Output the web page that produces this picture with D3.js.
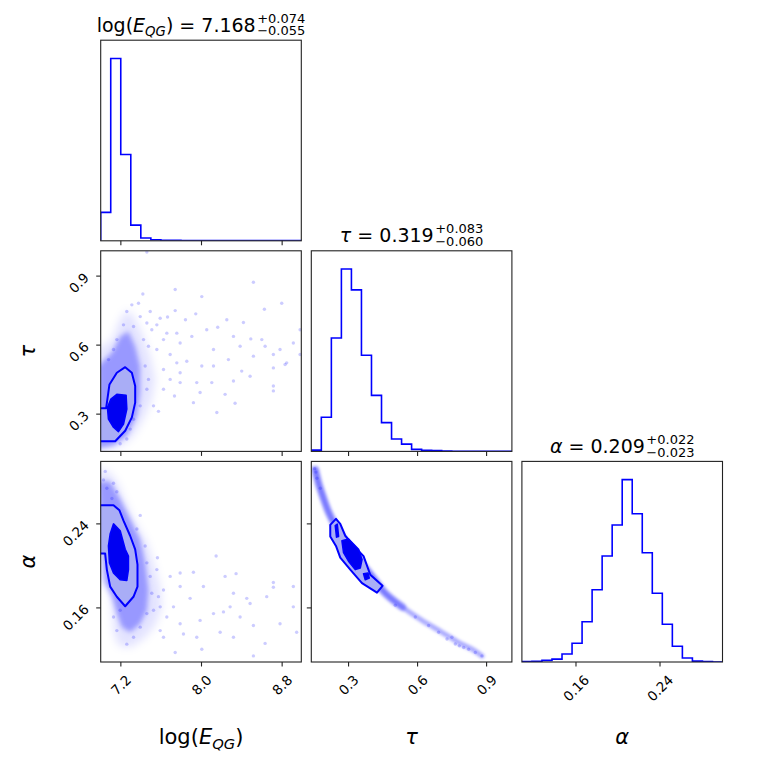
<!DOCTYPE html>
<html>
<head>
<meta charset="utf-8">
<script src="https://cdn.jsdelivr.net/npm/d3@7"></script>
<style>
  body { margin: 0; background: #fff; }
  text { font-family: "DejaVu Sans", sans-serif; fill: #000; }
</style>
</head>
<body>
<script>
// axis ranges, ticks
const logERange = [7.0, 8.99];
const tauRange = [0.138, 1.01];
const alphaRange = [0.1085, 0.2995];
const logETicks = [7.2, 8.0, 8.8];
const tauTicks = [0.3, 0.6, 0.9];
const alphaTicks = [0.16, 0.24];
const tickFormats = ['.1f', '.1f', '.2f'];

// 1d histograms, 20 bins over each range (relative counts)
const logEHist = [156, 1000, 473, 86, 15, 6, 3, 3, 2, 2, 2, 2, 2, 2, 2, 2, 1, 1, 1, 1];
const tauHist = [7, 187, 622, 1000, 886, 527, 307, 158, 68, 40, 11, 6, 4, 2, 1, 1, 0, 0, 0, 0];
const alphaHist = [2, 4, 9, 16, 44, 103, 221, 396, 581, 751, 1000, 813, 599, 377, 207, 86, 22, 5, 2, 0];

// titles
const medians = ['7.168', '0.319', '0.209'];
const errPlus = ['0.074', '0.083', '0.022'];
const errMinus = ['0.055', '0.060', '0.023'];

// log(E) vs tau
const logETauOuter = [[6.97, 0.326], [7.054, 0.326], [7.087, 0.429], [7.160, 0.480], [7.243, 0.504], [7.309, 0.480],
  [7.342, 0.422], [7.342, 0.350], [7.309, 0.286], [7.243, 0.228], [7.144, 0.182], [6.97, 0.182]];
const logETauInner = [[7.160, 0.386], [7.252, 0.382], [7.259, 0.322], [7.226, 0.257], [7.176, 0.224], [7.127, 0.243],
  [7.077, 0.278], [7.067, 0.329], [7.101, 0.365]];
const logETauHalo = [[6.97, 0.5805], [7.111, 0.6237], [7.193, 0.710], [7.259, 0.7532], [7.325, 0.7243], [7.408, 0.6526],
  [7.490, 0.5516], [7.540, 0.4511], [7.507, 0.3647], [7.424, 0.2784], [7.325, 0.2063], [7.193, 0.1563], [6.97, 0.145]];
const logETauCore = [[6.97, 0.5085], [7.111, 0.5663], [7.193, 0.6379], [7.275, 0.6595], [7.342, 0.5948], [7.391, 0.5085],
  [7.391, 0.3937], [7.358, 0.2927], [7.259, 0.2063], [7.127, 0.1632], [6.97, 0.149]];
const logETauPoints = [[7.458, 1.005], [7.739, 0.842], [7.418, 0.822], [8.003, 0.811], [8.515, 0.873], [8.796, 0.782],
  [8.624, 0.756], [8.251, 0.710], [8.416, 0.698], [7.739, 0.750], [7.663, 0.722], [7.841, 0.710], [7.943, 0.736],
  [8.052, 0.667], [8.161, 0.678], [8.317, 0.638], [8.489, 0.627], [8.631, 0.595], [8.978, 0.667], [7.904, 0.638],
  [7.788, 0.609], [8.119, 0.581], [8.383, 0.595], [8.713, 0.559], [8.845, 0.523], [8.978, 0.559], [7.854, 0.530],
  [8.003, 0.509], [8.119, 0.509], [8.267, 0.537], [8.399, 0.487], [8.482, 0.465], [8.713, 0.501], [8.829, 0.516],
  [8.317, 0.444], [8.713, 0.422], [8.713, 0.401], [8.234, 0.386], [8.333, 0.347], [8.152, 0.307], [7.920, 0.350],
  [7.732, 0.379], [7.573, 0.312], [7.788, 0.437], [7.689, 0.451], [7.623, 0.494], [7.689, 0.559], [7.557, 0.581],
  [7.623, 0.624], [7.507, 0.667], [7.557, 0.688], [7.656, 0.652], [7.755, 0.652], [7.590, 0.717], [7.491, 0.746],
  [7.375, 0.782], [7.309, 0.775], [7.259, 0.746], [7.226, 0.688], [7.755, 0.523], [7.788, 0.480], [7.953, 0.437],
  [8.102, 0.437], [7.623, 0.408], [7.524, 0.336], [7.986, 0.394], [8.515, 0.552], [8.598, 0.624], [8.779, 0.581],
  [8.911, 0.609], [7.458, 0.696], [7.425, 0.624], [7.474, 0.595], [7.392, 0.724], [7.326, 0.681], [7.441, 0.509],
  [7.474, 0.451], [7.458, 0.408], [7.392, 0.336], [7.326, 0.278], [7.293, 0.235], [7.259, 0.192], [7.193, 0.171],
  [7.127, 0.581], [7.078, 0.537], [7.160, 0.624]];

// log(E) vs alpha
const logEAlphaOuter = [[6.97, 0.2577], [7.127, 0.2577], [7.186, 0.2529], [7.226, 0.2432], [7.292, 0.2287], [7.342, 0.2158],
  [7.365, 0.2013], [7.365, 0.1803], [7.325, 0.1706], [7.243, 0.1616], [7.160, 0.1706], [7.094, 0.1803], [7.061, 0.1965],
  [7.044, 0.2119], [6.97, 0.2119]];
const logEAlphaInner = [[7.127, 0.2400], [7.193, 0.2335], [7.243, 0.2158], [7.275, 0.2093], [7.275, 0.1965], [7.259, 0.1861],
  [7.193, 0.1868], [7.127, 0.1933], [7.087, 0.2029], [7.077, 0.2190], [7.094, 0.2303]];
const logEAlphaHalo = [[6.97, 0.2932], [7.078, 0.2900], [7.160, 0.2803], [7.243, 0.2610], [7.342, 0.2416], [7.458, 0.2223],
  [7.524, 0.2029], [7.590, 0.1804], [7.606, 0.1610], [7.540, 0.1433], [7.425, 0.1304], [7.293, 0.1223], [7.177, 0.1239],
  [7.127, 0.1368], [7.111, 0.1578], [7.094, 0.1739], [7.028, 0.1836], [6.97, 0.1868]];
const logEAlphaCore = [[6.97, 0.2803], [7.094, 0.2803], [7.193, 0.2642], [7.293, 0.2448], [7.392, 0.2255], [7.441, 0.2029],
  [7.474, 0.1771], [7.458, 0.1578], [7.392, 0.1449], [7.293, 0.1368], [7.210, 0.1417], [7.160, 0.1546], [7.111, 0.1707],
  [7.045, 0.1836]];
const logEAlphaPoints = [[7.045, 0.290], [7.563, 0.2078], [8.145, 0.2094], [7.788, 0.1932], [7.920, 0.1939], [8.234, 0.1900],
  [8.343, 0.1926], [8.713, 0.1842], [8.713, 0.1797], [8.911, 0.1804], [8.317, 0.1739], [8.449, 0.1691], [8.482, 0.1642],
  [8.647, 0.1707], [8.284, 0.1610], [8.019, 0.1804], [7.788, 0.1804], [7.887, 0.1691], [7.722, 0.1610], [7.656, 0.1513],
  [7.788, 0.1449], [7.986, 0.1481], [8.119, 0.1546], [8.218, 0.1562], [8.515, 0.1433], [8.779, 0.1449], [8.911, 0.1610],
  [8.944, 0.1368], [8.631, 0.1262], [8.515, 0.1143], [8.003, 0.1207], [7.739, 0.1175], [7.821, 0.1352], [7.953, 0.1320],
  [7.623, 0.1320], [7.590, 0.1384], [8.185, 0.1368], [8.317, 0.1320], [8.383, 0.1513], [7.689, 0.1900], [7.573, 0.1707],
  [7.524, 0.1578], [7.028, 0.2819], [7.061, 0.2739], [7.127, 0.2787], [7.160, 0.2706], [7.111, 0.2642], [7.392, 0.2481],
  [7.359, 0.2352], [7.441, 0.2190], [7.458, 0.2029], [7.491, 0.1900], [7.507, 0.1739], [7.458, 0.1546], [7.392, 0.1417],
  [7.326, 0.1320], [7.259, 0.1255], [7.160, 0.1384], [7.127, 0.1513], [7.193, 0.1578], [7.590, 0.1610], [7.623, 0.1771],
  [7.557, 0.1965]];

// tau vs alpha
const tauAlphaOuter = [[0.2204, 0.2390], [0.2452, 0.2448], [0.2639, 0.2400], [0.2857, 0.2287], [0.3291, 0.2175],
  [0.3652, 0.2093], [0.3943, 0.1916], [0.4478, 0.1810], [0.4235, 0.1745], [0.3583, 0.1836], [0.3074, 0.1965],
  [0.2639, 0.2078], [0.2452, 0.2190], [0.2204, 0.2281]];
const tauAlphaInner = [
  [[0.2422, 0.2384], [0.2509, 0.2397], [0.2565, 0.2281], [0.2478, 0.2274]],
  [[0.2713, 0.2239], [0.3000, 0.2255], [0.3435, 0.2158], [0.3583, 0.2061], [0.3509, 0.1981], [0.3291, 0.1965],
    [0.3000, 0.2045], [0.2783, 0.2126]],
  [[0.3652, 0.1926], [0.3843, 0.1932], [0.3900, 0.1884], [0.3726, 0.1868]]
];
const tauAlphaRidge = [[0.1552, 0.2916], [0.1696, 0.2787], [0.1913, 0.2642], [0.2130, 0.2513], [0.2422, 0.2384],
  [0.2857, 0.2223], [0.3435, 0.2061], [0.4017, 0.1900], [0.4596, 0.1739], [0.5322, 0.1610], [0.6191, 0.1481],
  [0.7061, 0.1368], [0.7783, 0.1271], [0.8365, 0.1207], [0.8800, 0.1142]];
const tauAlphaPoints = [[0.1523, 0.2926], [0.1581, 0.2893], [0.1625, 0.2835], [0.1770, 0.2739], [0.7639, 0.1256],
  [0.7813, 0.1239], [0.8219, 0.1207], [0.8509, 0.1175], [0.8799, 0.1143], [0.7277, 0.1304], [0.6914, 0.1368],
  [0.6479, 0.1433], [0.7494, 0.1320], [0.8002, 0.1223], [0.5900, 0.1513], [0.5030, 0.1626]];

const X0 = 100.7, Y0 = 40.2, SIZE = 200.6, STEP = 210.6;
const BLUE = '#0000ff', LIGHT = '#a9adf6', DARK = '#0000f2';

const ranges = [logERange, tauRange, alphaRange];
const ticks = [logETicks, tauTicks, alphaTicks];
const hists = [logEHist, tauHist, alphaHist];
const xs = ranges.map(r => d3.scaleLinear().domain(r).range([0, SIZE]));
const ys = ranges.map(r => d3.scaleLinear().domain(r).range([SIZE, 0]));

const svg = d3.select('body').append('svg').attr('width', 763).attr('height', 763);
const defs = svg.append('defs');
defs.append('clipPath').attr('id', 'clip').append('rect').attr('width', SIZE).attr('height', SIZE);
[['blurWide', 4], ['blurCore', 2.5], ['blurBand', 1.5]].forEach(([id, s]) => {
  defs.append('filter').attr('id', id)
    .attr('x', '-50%').attr('y', '-50%').attr('width', '200%').attr('height', '200%')
    .append('feGaussianBlur').attr('stdDeviation', s);
});

function cell(row, col) {
  const g = svg.append('g').attr('transform', `translate(${X0 + col * STEP},${Y0 + row * STEP})`);
  const inner = g.append('g').attr('clip-path', 'url(#clip)');
  return { g, inner };
}

function frame(g, row, col) {
  g.append('rect').attr('width', SIZE).attr('height', SIZE)
    .attr('fill', 'none').attr('stroke', '#222').attr('stroke-width', 1.1);
  const x = xs[col];
  ticks[col].forEach(t => {
    g.append('line').attr('x1', x(t)).attr('x2', x(t)).attr('y1', SIZE).attr('y2', SIZE + 4.5)
      .attr('stroke', '#222').attr('stroke-width', 1.1);
  });
  if (row > col) {
    const y = ys[row];
    ticks[row].forEach(t => {
      g.append('line').attr('x1', 0).attr('x2', -4.5).attr('y1', y(t)).attr('y2', y(t))
        .attr('stroke', '#222').attr('stroke-width', 1.1);
    });
  }
  // rotated tick labels
  if (row === 2) {
    const fmt = d3.format(tickFormats[col]);
    ticks[col].forEach(t => {
      const lbl = g.append('text').text(fmt(t)).style('font-size', '13.5px')
        .attr('text-anchor', 'middle').attr('dominant-baseline', 'central');
      const L = lbl.node().getComputedTextLength();
      const half = (L + 9.5) * 0.3536;
      lbl.attr('transform', `translate(${x(t)},${SIZE + 12 + half}) rotate(-45)`);
    });
  }
  if (col === 0 && row > 0) {
    const fmt = d3.format(tickFormats[row]);
    const y = ys[row];
    ticks[row].forEach(t => {
      const lbl = g.append('text').text(fmt(t)).style('font-size', '13.5px')
        .attr('text-anchor', 'middle').attr('dominant-baseline', 'central');
      const L = lbl.node().getComputedTextLength();
      const half = (L + 9.5) * 0.3536;
      lbl.attr('transform', `translate(${-11 - half},${y(t) + L * 0.31}) rotate(-45)`);
    });
  }
}

// diagonal histograms
hists.forEach((counts, i) => {
  const { g, inner } = cell(i, i);
  const x = xs[i];
  const y = d3.scaleLinear().domain([0, 1.1 * d3.max(counts)]).range([SIZE, 0]);
  const [lo, hi] = ranges[i];
  const w = (hi - lo) / counts.length;
  const pts = [[lo, 0]];
  counts.forEach((c, k) => { pts.push([lo + k * w, c]); pts.push([lo + (k + 1) * w, c]); });
  pts.push([hi, 0]);
  inner.append('path')
    .attr('d', d3.line().x(d => x(d[0])).y(d => y(d[1]))(pts))
    .attr('fill', 'none').attr('stroke', BLUE).attr('stroke-width', 1.6);
  frame(g, i, i);
});

// 2d panels
const pairs = [
  { row: 1, col: 0, halo: logETauHalo, core: logETauCore, points: logETauPoints, outer: logETauOuter, inner: [logETauInner] },
  { row: 2, col: 0, halo: logEAlphaHalo, core: logEAlphaCore, points: logEAlphaPoints, outer: logEAlphaOuter, inner: [logEAlphaInner] },
  { row: 2, col: 1, ridge: tauAlphaRidge, points: tauAlphaPoints, outer: tauAlphaOuter, inner: tauAlphaInner }
];

pairs.forEach(p => {
  const { g, inner } = cell(p.row, p.col);
  const x = xs[p.col], y = ys[p.row];
  const line = d3.line().x(d => x(d[0])).y(d => y(d[1]));
  if (p.halo) {
    inner.append('path').attr('d', line(p.halo) + 'Z')
      .attr('fill', BLUE).attr('fill-opacity', 0.11).attr('filter', 'url(#blurWide)');
    inner.append('path').attr('d', line(p.core) + 'Z')
      .attr('fill', BLUE).attr('fill-opacity', 0.33).attr('filter', 'url(#blurCore)');
  }
  if (p.ridge) {
    const curve = d3.line().x(d => x(d[0])).y(d => y(d[1])).curve(d3.curveCatmullRom);
    inner.append('path').attr('d', curve(p.ridge))
      .attr('fill', 'none').attr('stroke', BLUE).attr('stroke-opacity', 0.32)
      .attr('stroke-width', 5).attr('stroke-linecap', 'round').attr('filter', 'url(#blurBand)');
    inner.append('path').attr('d', curve(p.ridge.slice(0, 10)))
      .attr('fill', 'none').attr('stroke', BLUE).attr('stroke-opacity', 0.3)
      .attr('stroke-width', 8).attr('stroke-linecap', 'round').attr('filter', 'url(#blurBand)');
  }
  inner.selectAll('circle.pt').data(p.points).enter().append('circle')
    .attr('cx', d => x(d[0])).attr('cy', d => y(d[1])).attr('r', 1.7)
    .attr('fill', BLUE).attr('fill-opacity', 0.2);
  inner.append('path').attr('d', line(p.outer) + 'Z')
    .attr('fill', LIGHT).attr('stroke', BLUE).attr('stroke-width', 2).attr('stroke-linejoin', 'round');
  p.inner.forEach(poly => {
    inner.append('path').attr('d', line(poly) + 'Z')
      .attr('fill', DARK).attr('stroke', BLUE).attr('stroke-width', 1.6).attr('stroke-linejoin', 'round');
  });
  frame(g, p.row, p.col);
});

// titles over the diagonal panels
const namesMain = [
  [{ t: 'log(' }, { t: 'E', i: true }, { t: 'QG', i: true, sub: true }, { t: ')' }],
  [{ t: 'τ', i: true }],
  [{ t: 'α', i: true }]
];

function mathText(parent, parts, size) {
  const txt = parent.append('text').style('font-size', size + 'px');
  let shifted = false;
  parts.forEach(pt => {
    const ts = txt.append('tspan').text(pt.t);
    if (pt.i) ts.style('font-style', 'italic');
    if (pt.sub) { ts.style('font-size', (size * 0.7) + 'px').attr('dy', size * 0.22); shifted = true; }
    else if (shifted) { ts.attr('dy', -size * 0.22); shifted = false; }
  });
  return txt;
}

namesMain.forEach((parts, i) => {
  const cx = X0 + i * STEP + SIZE / 2;
  const base = Y0 + i * STEP - 8.6;
  const grp = svg.append('g');
  const main = mathText(grp, parts.concat([{ t: ' = ' + medians[i] }]), 19);
  const w = main.node().getComputedTextLength();
  const sup = grp.append('text').attr('x', w + 1.5).attr('y', -9).style('font-size', '13px').text('+' + errPlus[i]);
  const sub = grp.append('text').attr('x', w + 1.5).attr('y', 3.8).style('font-size', '13px').text('\u2212' + errMinus[i]);
  const total = w + 1.5 + Math.max(sup.node().getComputedTextLength(), sub.node().getComputedTextLength());
  grp.attr('transform', `translate(${cx - total / 2},${base})`);
});

// axis labels
namesMain.forEach((parts, i) => {
  const cx = X0 + i * STEP + SIZE / 2;
  const lbl = mathText(svg.append('g'), parts, 21);
  const w = lbl.node().getComputedTextLength();
  lbl.attr('x', cx - w / 2).attr('y', 744);
});
[1, 2].forEach(i => {
  const cy = Y0 + i * STEP + SIZE / 2;
  const g = svg.append('g').attr('transform', `translate(35,${cy}) rotate(-90)`);
  const lbl = mathText(g, namesMain[i], 21);
  const w = lbl.node().getComputedTextLength();
  lbl.attr('x', -w / 2).attr('y', 0);
});
</script>
</body>
</html>
